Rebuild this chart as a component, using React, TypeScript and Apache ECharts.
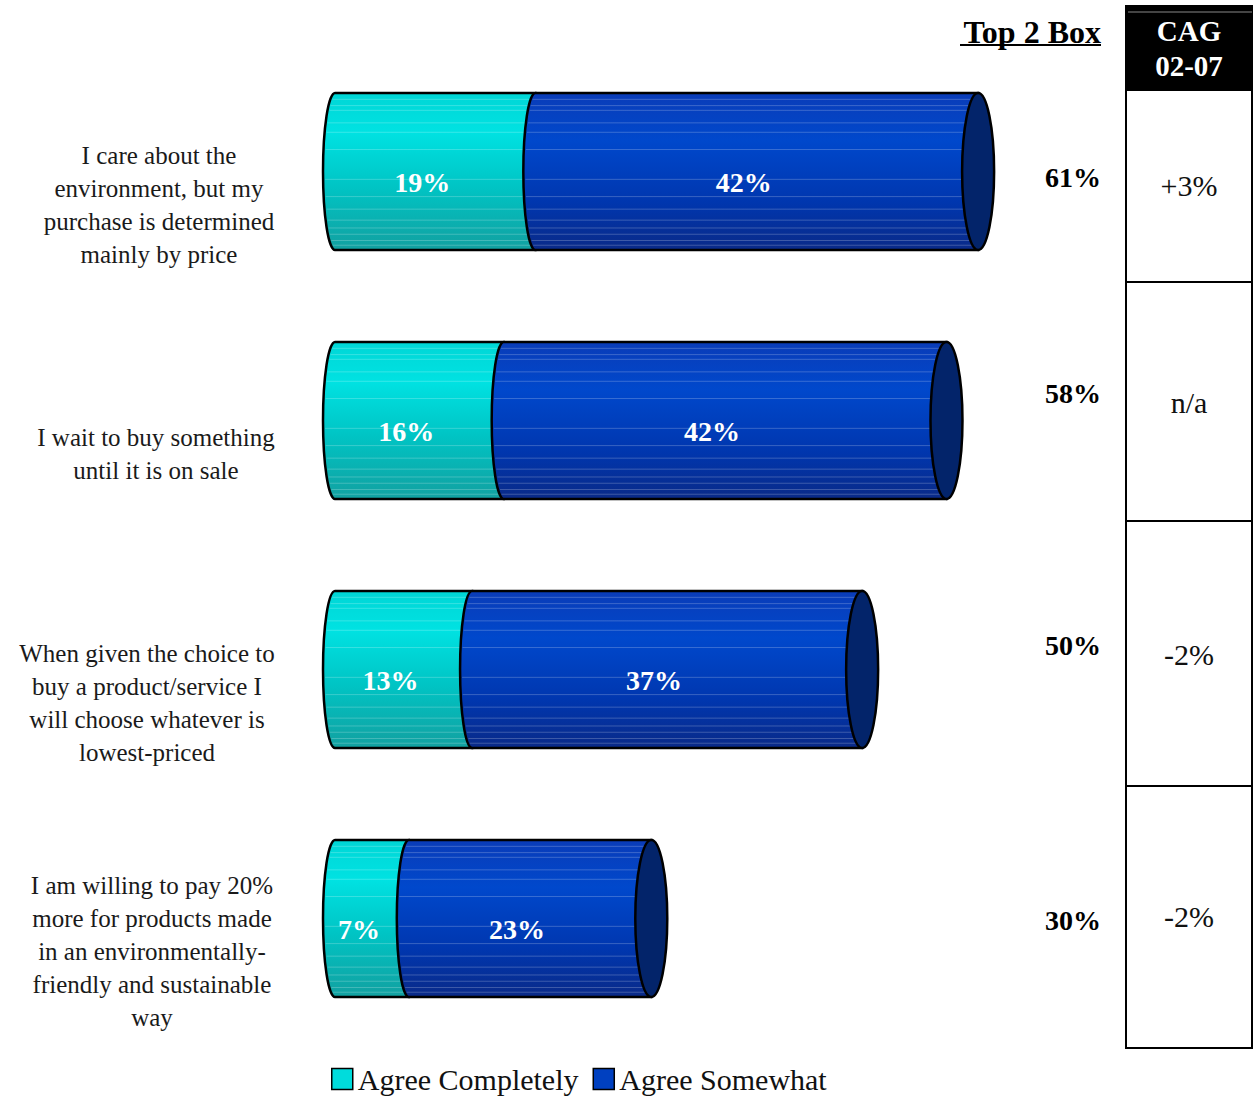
import React, { useEffect, useRef } from "react";
import * as echarts from "echarts";

const categories = [
  "I care about the\nenvironment, but my\npurchase is determined\nmainly by price",
  "I wait to buy something\nuntil it is on sale",
  "When given the choice to\nbuy a product/service I\nwill choose whatever is\nlowest-priced",
  "I am willing to pay 20%\nmore for products made\nin an environmentally-\nfriendly and sustainable\nway",
];
const agreeCompletely = [19, 16, 13, 7];
const agreeSomewhat = [42, 42, 37, 23];
const top2Box = ["61%", "58%", "50%", "30%"];
const cagValues = ["+3%", "n/a", "-2%", "-2%"];
const seriesNames = ["Agree Completely", "Agree Somewhat"];

const FONT = '"Liberation Serif", "Times New Roman", serif';
const labelShiftX = [6, 3, -6, -1];
const top2Y = [177, 393, 645, 920];
const cagY = [185, 402, 654, 916];
const tableLines = [282, 521, 786];
const stripes = [0.04, 0.08, 0.11, 0.19, 0.25, 0.36, 0.55, 0.66, 0.74, 0.81, 0.86, 0.9, 0.94, 0.97];

function makeRender(kind: "a" | "b") {
  return (params: any, api: any) => {
    const cat = api.value(0);
    const s = api.value(1);
    const e = api.value(2);
    const p0 = api.coord([s, cat]);
    const p1 = api.coord([e, cat]);
    const h = api.size([0, 1])[1] * 0.63;
    const cy = p0[1];
    const top = cy - h / 2;
    const bot = cy + h / 2;
    const ry = h / 2;
    const rx = 12;
    const x0 = p0[0];
    const x1 = p1[0];
    const d = `M${x0} ${top} L${x1} ${top} L${x1} ${bot} L${x0} ${bot} A${rx} ${ry} 0 0 1 ${x0} ${top} Z`;
    const fill =
      kind === "a"
        ? {
            type: "linear", x: 0, y: 0, x2: 0, y2: 1,
            colorStops: [
              { offset: 0, color: "#00D6D6" },
              { offset: 0.25, color: "#00E2E2" },
              { offset: 0.6, color: "#00C4C4" },
              { offset: 1, color: "#12A0A0" },
            ],
          }
        : {
            type: "linear", x: 0, y: 0, x2: 0, y2: 1,
            colorStops: [
              { offset: 0, color: "#0A3CB8" },
              { offset: 0.3, color: "#0048CC" },
              { offset: 0.7, color: "#0036AE" },
              { offset: 1, color: "#0A2A88" },
            ],
          };
    const children: any[] = [
      {
        type: "path",
        shape: { pathData: d },
        style: { fill, stroke: "#000", lineWidth: 2.5 },
      },
    ];
    stripes.forEach((f) => {
      const y = top + f * h;
      const t = (y - cy) / ry;
      const xs = x0 - rx * Math.sqrt(Math.max(0, 1 - t * t)) + 2;
      children.push({
        type: "line",
        shape: { x1: xs, y1: y, x2: x1, y2: y },
        style: { stroke: "rgba(255,255,255,0.22)", lineWidth: 1 },
      });
    });
    if (kind === "b") {
      children.push({
        type: "ellipse",
        shape: { cx: x1, cy, rx: 16, ry },
        style: { fill: "#03246A", stroke: "#000", lineWidth: 2.5 },
      });
    }
    children.push({
      type: "text",
      style: {
        text: `${e - s}%`,
        x: (x0 + x1) / 2 - 13,
        y: cy + 11,
        align: "center",
        verticalAlign: "middle",
        fill: "#fff",
        font: `bold 28px ${FONT}`,
      },
    });
    return { type: "group", children };
  };
}

export default function App() {
  const ref = useRef<HTMLDivElement>(null);
  useEffect(() => {
    if (!ref.current) return;
    const chart = echarts.init(ref.current, null, { renderer: "svg" });
    const dataA = agreeCompletely.map((v, i) => [i, 0, v]);
    const dataB = agreeSomewhat.map((v, i) => [i, agreeCompletely[i], agreeCompletely[i] + v]);

    const graphic: any[] = [
      {
        type: "text",
        x: 1101,
        y: 32,
        style: {
          text: "Top 2 Box",
          font: `bold 32px ${FONT}`,
          fill: "#000",
          align: "right",
          verticalAlign: "middle",
          textAlign: "right",
          textVerticalAlign: "middle",
        },
      },
      {
        type: "line",
        shape: { x1: 960, y1: 45, x2: 1101, y2: 45 },
        style: { stroke: "#000", lineWidth: 2 },
      },
      {
        type: "rect",
        shape: { x: 1125, y: 5, width: 128, height: 86 },
        style: { fill: "#000" },
      },
      {
        type: "line",
        shape: { x1: 1128, y1: 12, x2: 1252, y2: 12 },
        style: { stroke: "#888", lineWidth: 1 },
      },
      {
        type: "text",
        x: 1189,
        y: 48,
        style: {
          text: "CAG\n02-07",
          font: `bold 29px ${FONT}`,
          lineHeight: 35,
          fill: "#fff",
          align: "center",
          verticalAlign: "middle",
          textAlign: "center",
          textVerticalAlign: "middle",
        },
      },
      {
        type: "rect",
        shape: { x: 1126, y: 90, width: 126, height: 958 },
        style: { fill: "none", stroke: "#000", lineWidth: 2 },
      },
    ];
    tableLines.forEach((y) =>
      graphic.push({
        type: "line",
        shape: { x1: 1126, y1: y, x2: 1252, y2: y },
        style: { stroke: "#000", lineWidth: 2 },
      })
    );
    top2Box.forEach((t, i) =>
      graphic.push({
        type: "text",
        x: 1101,
        y: top2Y[i],
        style: {
          text: t,
          font: `bold 28px ${FONT}`,
          fill: "#000",
          align: "right",
          verticalAlign: "middle",
          textAlign: "right",
          textVerticalAlign: "middle",
        },
      })
    );
    cagValues.forEach((t, i) =>
      graphic.push({
        type: "text",
        x: 1189,
        y: cagY[i],
        style: {
          text: t,
          font: `30px ${FONT}`,
          fill: "#111",
          align: "center",
          verticalAlign: "middle",
          textAlign: "center",
          textVerticalAlign: "middle",
        },
      })
    );

    const labelStyle = {
      align: "center",
      verticalAlign: "middle",
      fontSize: 25,
      lineHeight: 33,
      fontFamily: FONT,
      color: "#1a1a1a",
    };

    chart.setOption({
      animation: false,
      backgroundColor: "#fff",
      grid: { left: 335, top: 47, width: 738, height: 996, outerBoundsMode: "none", containLabel: false },
      xAxis: { type: "value", min: 0, max: 70, show: false },
      yAxis: {
        type: "category",
        inverse: true,
        data: categories.map((c, i) => ({
          value: c,
          textStyle: {
            ...labelStyle,
            padding: [0, labelShiftX[i] < 0 ? -2 * labelShiftX[i] : 0, 0, labelShiftX[i] > 0 ? 2 * labelShiftX[i] : 0],
          },
        })),
        axisLine: { show: false },
        axisTick: { show: false },
        splitLine: { show: false },
        axisLabel: {
          ...labelStyle,
          margin: 182,
          formatter: (v: string) => "\n\n" + v,
        },
      },
      legend: {
        data: seriesNames,
        left: 331,
        top: 1064,
        padding: 0,
        icon: "rect",
        itemWidth: 21,
        itemHeight: 21,
        itemGap: 14,
        itemStyle: { borderColor: "#000", borderWidth: 1.5 },
        textStyle: { fontSize: 30, fontFamily: FONT, color: "#111", lineHeight: 24 },
      },
      series: [
        {
          name: seriesNames[0],
          type: "custom",
          renderItem: makeRender("a"),
          encode: { x: [1, 2], y: 0 },
          itemStyle: { color: "#00DCDC" },
          data: dataA,
          z: 2,
        },
        {
          name: seriesNames[1],
          type: "custom",
          renderItem: makeRender("b"),
          encode: { x: [1, 2], y: 0 },
          itemStyle: { color: "#0040C0" },
          data: dataB,
          z: 3,
        },
      ],
      graphic,
    });
    return () => chart.dispose();
  }, []);
  return (
    <div
      ref={ref}
      style={{ position: "absolute", left: 0, top: 0, width: 1257, height: 1100 }}
    />
  );
}
